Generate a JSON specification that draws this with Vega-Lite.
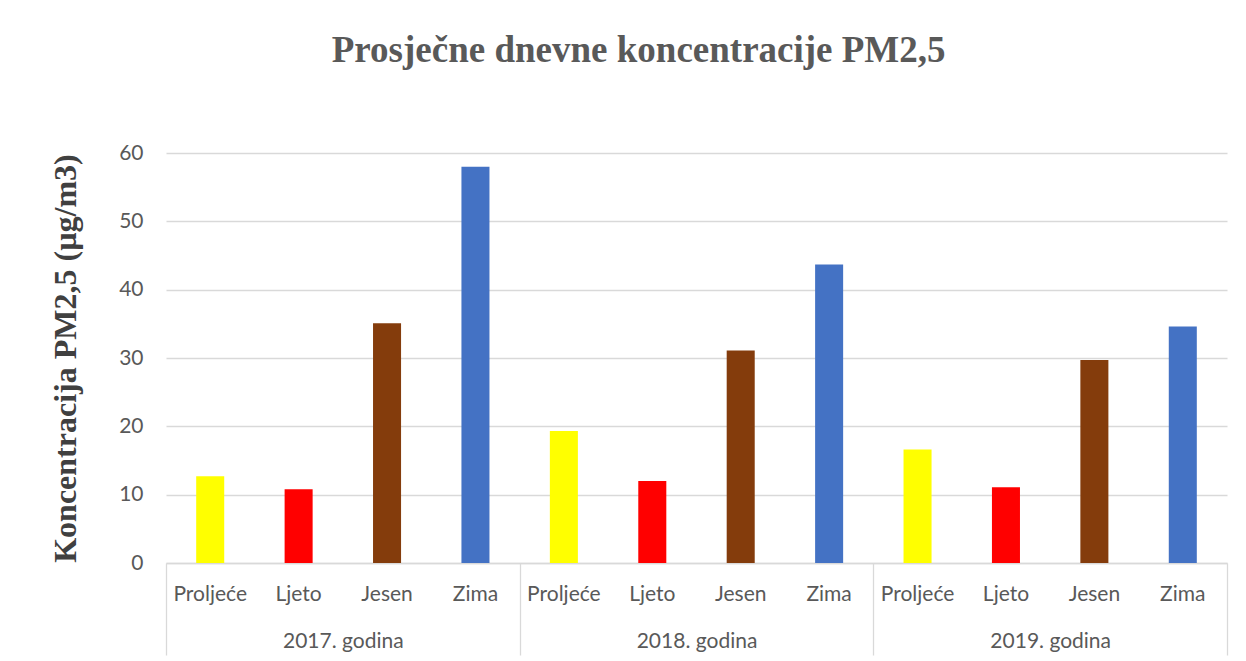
{
  "$schema": "https://vega.github.io/schema/vega-lite/v6.json",
  "width": 1061,
  "height": 410,
  "autosize": {"type": "none"},
  "padding": {"left": 166, "top": 153, "right": 19, "bottom": 98},
  "background": "white",
  "title": {
    "text": "Prosječne dnevne koncentracije PM2,5",
    "font": "Liberation Serif",
    "fontSize": 37,
    "fontWeight": "bold",
    "color": "#595959",
    "anchor": "middle",
    "frame": "bounds",
    "offset": 72
  },
  "config": {
    "view": {"stroke": null},
    "axis": {"labelFont": "Lato", "labelColor": "#595959", "labelFontSize": 21}
  },
  "data": {
    "values": [
      {"key": "2017|Proljeće", "year": "2017. godina", "season": "Proljeće", "value": 12.7},
      {"key": "2017|Ljeto", "year": "2017. godina", "season": "Ljeto", "value": 10.8},
      {"key": "2017|Jesen", "year": "2017. godina", "season": "Jesen", "value": 35.1},
      {"key": "2017|Zima", "year": "2017. godina", "season": "Zima", "value": 58.0},
      {"key": "2018|Proljeće", "year": "2018. godina", "season": "Proljeće", "value": 19.3},
      {"key": "2018|Ljeto", "year": "2018. godina", "season": "Ljeto", "value": 12.0},
      {"key": "2018|Jesen", "year": "2018. godina", "season": "Jesen", "value": 31.1},
      {"key": "2018|Zima", "year": "2018. godina", "season": "Zima", "value": 43.7},
      {"key": "2019|Proljeće", "year": "2019. godina", "season": "Proljeće", "value": 16.6},
      {"key": "2019|Ljeto", "year": "2019. godina", "season": "Ljeto", "value": 11.1},
      {"key": "2019|Jesen", "year": "2019. godina", "season": "Jesen", "value": 29.7},
      {"key": "2019|Zima", "year": "2019. godina", "season": "Zima", "value": 34.6}
    ]
  },
  "layer": [
    {
      "mark": {"type": "bar"},
      "encoding": {
        "x": {
          "field": "key",
          "type": "nominal",
          "sort": null,
          "scale": {"paddingInner": 0.683, "paddingOuter": 0.3415},
          "axis": {
            "title": null,
            "labelExpr": "split(datum.value, '|')[1]",
            "labelAngle": 0,
            "ticks": false,
            "labelPadding": 20,
            "domain": true,
            "domainColor": "#d9d9d9",
            "domainWidth": 1.3,
            "grid": false
          }
        },
        "y": {
          "field": "value",
          "type": "quantitative",
          "scale": {"domain": [0, 60]},
          "axis": {
            "title": "Koncentracija PM2,5 (µg/m3)",
            "titleFont": "Liberation Serif",
            "titleFontSize": 32,
            "titleFontWeight": "bold",
            "titleColor": "#404040",
            "titlePadding": 36,
            "values": [0, 10, 20, 30, 40, 50, 60],
            "ticks": false,
            "domain": false,
            "labelPadding": 23,
            "grid": true,
            "gridColor": "#d9d9d9",
            "gridWidth": 1.3
          }
        },
        "color": {
          "field": "season",
          "type": "nominal",
          "scale": {
            "domain": ["Proljeće", "Ljeto", "Jesen", "Zima"],
            "range": ["#FFFF00", "#FF0000", "#843C0C", "#4472C4"]
          },
          "legend": null
        }
      }
    },
    {
      "mark": {"type": "point", "opacity": 0},
      "encoding": {
        "x": {
          "field": "year",
          "type": "nominal",
          "sort": null,
          "scale": {"paddingInner": 0, "paddingOuter": 0},
          "axis": {
            "title": null,
            "orient": "bottom",
            "labelAngle": 0,
            "tickBand": "extent",
            "ticks": true,
            "tickSize": 92,
            "tickColor": "#d9d9d9",
            "tickWidth": 1.3,
            "labelPadding": -25,
            "domain": false,
            "grid": false
          }
        },
        "y": {"field": "value", "type": "quantitative"}
      }
    }
  ],
  "resolve": {"scale": {"x": "independent"}}
}
